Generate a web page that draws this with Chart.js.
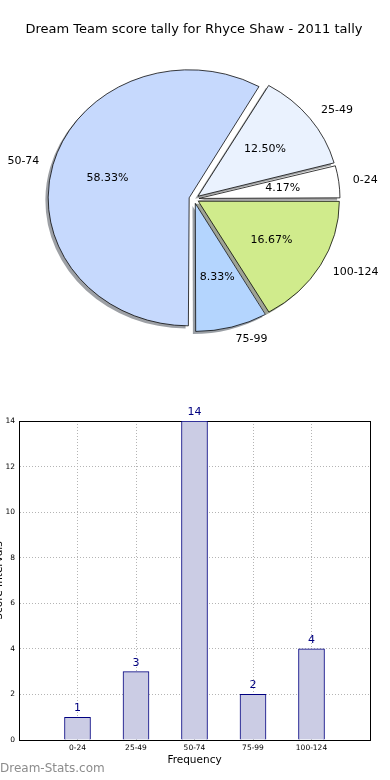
<!DOCTYPE html>
<html><head><meta charset="utf-8">
<script src="https://cdn.jsdelivr.net/npm/chart.js@4.4.1/dist/chart.umd.min.js"></script>
<style>
html,body{margin:0;padding:0;background:#fff;width:390px;height:780px;overflow:hidden;position:relative}
#pieWrap{position:absolute;left:0;top:0;width:390px;height:370px}
#barWrap{position:absolute;left:-10px;top:400px;width:400px;height:380px}
#wm{position:absolute;left:0;top:761px;font:12px 'DejaVu Sans';color:#8c8c8c;white-space:nowrap}
canvas{display:block}
</style></head><body>
<div id="pieWrap"><canvas id="pie" width="390" height="370"></canvas></div>
<div id="barWrap"><canvas id="bar" width="400" height="380"></canvas></div>
<div id="wm">Dream-Stats.com</div>
<script>
const chartTitle = 'Dream Team score tally for Rhyce Shaw - 2011 tally';
const categories = ['0-24', '25-49', '50-74', '75-99', '100-124'];
const counts = [1, 3, 14, 2, 4];
const sliceColors = ['#ffffff', '#eaf2fe', '#c6d9fd', '#b4d5fe', '#d0eb8c'];
const yTicks = [0, 2, 4, 6, 8, 10, 12, 14];
const xTitle = 'Frequency';
const yTitle = 'Score Intervals';

const FONT = "'DejaVu Sans', sans-serif";
const SY = 0.908;       // vertical squash of pie (ellipse)
const EXPLODE = 5;      // px displacement of every wedge
const RADIUS = 141;
const total = counts.reduce((a, b) => a + b, 0);

// Chart.js draws clockwise from the start angle; matplotlib counter-clockwise.
const revCats = categories.slice().reverse();
const revCounts = counts.slice().reverse();
const revColors = sliceColors.slice().reverse();

function shadowOf(hex) {
  const n = parseInt(hex.slice(1), 16);
  const r = (n >> 16) & 255, g = (n >> 8) & 255, b = n & 255;
  return `rgba(${Math.round(r * 0.3)},${Math.round(g * 0.3)},${Math.round(b * 0.3)},0.5)`;
}

function squash(ctx, cx, cy) {
  ctx.translate(cx, cy); ctx.scale(1, SY); ctx.translate(-cx, -cy);
}

const pieFx = {
  id: 'pieFx',
  beforeDatasetsDraw(chart) {
    const ctx = chart.ctx;
    const meta = chart.getDatasetMeta(0);
    const cx = meta.data[0].x, cy = meta.data[0].y;
    // keep every wedge at the same radius (Chart.js grows narrow exploded wedges)
    meta.data.forEach((el) => {
      const circ = el.endAngle - el.startAngle;
      const fix = 1 - Math.sin(Math.min(Math.PI, circ));
      el.outerRadius = RADIUS - EXPLODE * fix;
    });
    // shadows
    ctx.save();
    ctx.translate(-2.8, 2.6);
    squash(ctx, cx, cy);
    meta.data.forEach((el, j) => {
      const o = el.options;
      const col = shadowOf(revColors[j]);
      el.options = Object.assign({}, o, { backgroundColor: col, borderColor: col, borderWidth: 0 });
      el.draw(ctx);
      el.options = o;
    });
    ctx.restore();
    ctx.save();
    squash(ctx, cx, cy);
  },
  afterDatasetsDraw(chart) {
    chart.ctx.restore();
  },
  afterDraw(chart) {
    const ctx = chart.ctx;
    const meta = chart.getDatasetMeta(0);
    ctx.save();
    ctx.fillStyle = '#000';
    ctx.font = `11px ${FONT}`;
    ctx.textBaseline = 'middle';
    meta.data.forEach((el, j) => {
      const mid = (el.startAngle + el.endAngle) / 2;
      const r = RADIUS;
      const c = Math.cos(mid), s = Math.sin(mid);
      const lx = el.x + (EXPLODE + 1.1 * r) * c;
      const ly = el.y + SY * (EXPLODE + 1.1 * r) * s;
      ctx.textAlign = c > 0 ? 'left' : 'right';
      ctx.fillText(revCats[j], lx, ly);
      const px = el.x + (EXPLODE + 0.6 * r) * c;
      const py = el.y + SY * (EXPLODE + 0.6 * r) * s;
      ctx.textAlign = 'center';
      ctx.fillText((revCounts[j] / total * 100).toFixed(2) + '%', px, py);
    });
    ctx.restore();
  }
};

new Chart(document.getElementById('pie'), {
  type: 'pie',
  data: {
    labels: revCats,
    datasets: [{
      data: revCounts,
      backgroundColor: revColors,
      borderColor: '#000',
      borderWidth: 0.8,
      clip: false,
      offset: EXPLODE * 4
    }]
  },
  options: {
    responsive: false,
    animation: false,
    events: [],
    rotation: 90,
    radius: RADIUS,
    layout: { padding: { left: 0, right: 2, top: 0, bottom: 9.6 } },
    plugins: {
      legend: { display: false },
      tooltip: { enabled: false },
      title: {
        display: true, text: chartTitle, color: '#000',
        font: { family: FONT, size: 13, weight: 'normal' },
        padding: { top: 22, bottom: 0 }
      }
    }
  },
  plugins: [pieFx]
});

const barLabels = {
  id: 'barLabels',
  afterDraw(chart) {
    const ctx = chart.ctx;
    const meta = chart.getDatasetMeta(0);
    const vals = chart.data.datasets[0].data;
    ctx.save();
    ctx.fillStyle = '#000080';
    ctx.font = `11px ${FONT}`;
    ctx.textAlign = 'center';
    ctx.textBaseline = 'middle';
    meta.data.forEach((el, i) => {
      if (vals[i] == null) return;
      ctx.fillText(String(vals[i]), el.x, el.y - 9);
    });
    ctx.restore();
  }
};

const tickFont = { family: FONT, size: 7.5 };
new Chart(document.getElementById('bar'), {
  type: 'bar',
  data: {
    labels: ['', ...categories, ''],
    datasets: [{
      data: [null, ...counts, null],
      backgroundColor: '#cbcce4',
      borderColor: '#000080',
      borderWidth: 1,
      barThickness: 26
    }]
  },
  options: {
    responsive: false,
    animation: false,
    events: [],
    layout: { padding: { top: 21, right: 20, left: 0, bottom: 0 } },
    plugins: { legend: { display: false }, tooltip: { enabled: false } },
    scales: {
      x: {
        offset: false, z: 1,
        grid: { color: '#b4b4b4', lineWidth: 1, drawTicks: false, offset: false },
        border: { display: true, color: '#000', width: 1, dash: [1, 2] },
        ticks: { font: tickFont, color: '#000', padding: 4, maxRotation: 0, autoSkip: false },
        title: { display: true, text: xTitle, color: '#000', font: { family: FONT, size: 10.5 }, padding: { top: 0, bottom: 13.7 } },
        afterFit(s) { s.height = 40; }
      },
      y: {
        min: 0, max: 14, z: 1,
        afterBuildTicks(s) { s.ticks = yTicks.map(v => ({ value: v })); },
        grid: { color: '#b4b4b4', lineWidth: 1, drawTicks: false },
        border: { display: true, color: '#000', width: 1, dash: [1, 2] },
        ticks: { font: tickFont, color: '#000', padding: 4 },
        title: { display: true, text: yTitle, color: '#000', font: { family: FONT, size: 10.5 }, padding: { top: 2.7, bottom: 0 } },
        afterFit(s) { s.width = 29; }
      },
      x2: {
        type: 'linear', axis: 'x', position: 'top', z: 1,
        grid: { display: false, drawTicks: false },
        ticks: { display: false },
        border: { display: true, color: '#000', width: 1 },
        afterFit(s) { s.height = 0; }
      },
      y2: {
        type: 'linear', position: 'right', z: 1,
        grid: { display: false, drawTicks: false },
        ticks: { display: false },
        border: { display: true, color: '#000', width: 1 },
        afterFit(s) { s.width = 0; }
      }
    }
  },
  plugins: [barLabels]
});
</script>
</body></html>
